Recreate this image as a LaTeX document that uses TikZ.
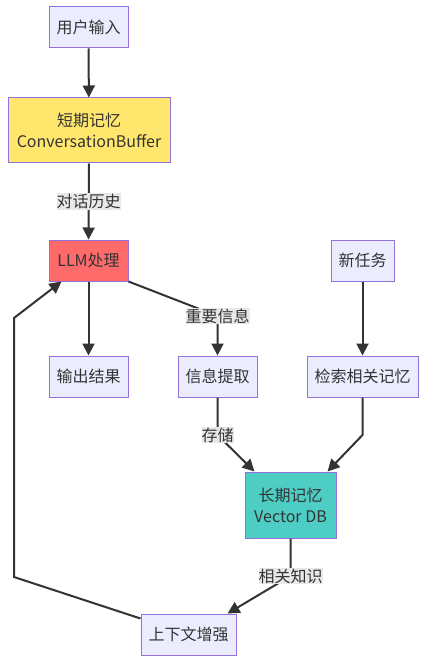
\documentclass[tikz,border=0pt]{standalone}
\usepackage{fontspec}
\setmainfont{Noto Sans CJK SC}
\usetikzlibrary{arrows.meta}

\definecolor{boxline}{HTML}{9370DB}
\definecolor{boxfill}{HTML}{ECECFF}
\definecolor{txt}{HTML}{333333}
\definecolor{lblfill}{HTML}{E8E8E8}
\definecolor{llmred}{HTML}{FF6B6B}
\definecolor{stmyellow}{HTML}{FFE66D}
\definecolor{ltmteal}{HTML}{4ECDC4}

\tikzstyle{box}=[draw=boxline, fill=boxfill, line width=1pt, text=txt, minimum height=41pt, inner sep=0pt, align=center, font=\fontsize{16}{21}\selectfont]
\tikzstyle{edge} = [draw=txt, line width=2pt, -{Triangle[length=12pt, width=12pt]}]
\tikzstyle{edge label} = [fill=lblfill, text=txt, inner xsep=0pt, inner ysep=1pt, font=\fontsize{16}{19}\selectfont]

\begin{document}
\begin{tikzpicture}[x=1pt, y=-1pt]
		\useasboundingbox (0,0) rectangle (426,663);
		\foreach \pos/\name/\w/\txt in {{(88.5,27.5)/input/79/用户输入}, {(362.5,260.5)/task/63/新任务}, {(88.5,376.5)/output/79/输出结果}, {(217.5,376.5)/extract/79/信息提取}, {(362.5,376.5)/search/111/检索相关记忆}, {(188.5,634.5)/ctx/95/上下文增强}}
			\node[box, minimum width=\w pt] (\name) at \pos {\txt};
		\node[box, fill=stmyellow, minimum width=162pt, minimum height=65pt] (stm) at (89,130.5) {短期记忆\\ConversationBuffer};
		\node[box, fill=llmred, minimum width=79pt] (llm) at (88.5,260.5) {LLM处理};
		\node[box, fill=ltmteal, minimum width=91pt, minimum height=66pt] (ltm) at (290.5,505) {长期记忆\\Vector DB};
		\foreach \source/ \dest in {input/stm, llm/output, task/search}
			\path[edge] (\source) -- (\dest);
		\path[edge] (stm) -- node[edge label] {对话历史} (llm);
		\path[edge] (llm.south east) -- (217.5,316) node[edge label] {重要信息} -- (extract);
		\path[edge] (extract) -- (217.5,435) node[edge label] {存储} -- ([xshift=10pt]ltm.north west);
		\path[edge] (search) -- (362.5,435) -- ([xshift=-9pt]ltm.north east);
		\path[edge] (ltm) -- (290.5,576) node[edge label] {相关知识} -- ([xshift=-9pt]ctx.north east);
		\path[edge] ([yshift=-5pt]ctx.north west) -- (14,577) -- (14,318) -- ([xshift=13pt]llm.south west);
	\end{tikzpicture}
\end{document}
